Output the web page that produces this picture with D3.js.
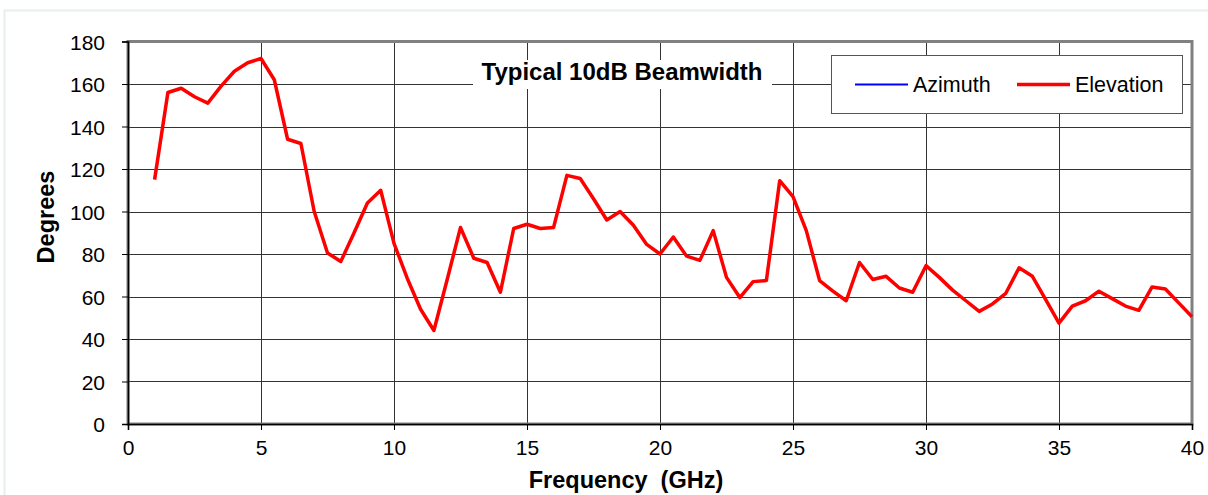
<!DOCTYPE html>
<html><head><meta charset="utf-8">
<script src="https://cdn.jsdelivr.net/npm/d3@7"></script>
<style>
body{margin:0;background:#fff}
svg{display:block;font-family:"Liberation Sans",Arial,Helvetica,sans-serif}
</style>
</head><body>
<svg id="c" width="1208" height="495"></svg>
<script>
// ---- data ----
const frequencies = [1,1.5,2,2.5,3,3.5,4,4.5,5,5.5,6,6.5,7,7.5,8,8.5,9,9.5,10,10.5,11,11.5,12,12.5,13,13.5,14,14.5,15,15.5,16,16.5,17,17.5,18,18.5,19,19.5,20,20.5,21,21.5,22,22.5,23,23.5,24,24.5,25,25.5,26,26.5,27,27.5,28,28.5,29,29.5,30,30.5,31,31.5,32,32.5,33,33.5,34,34.5,35,35.5,36,36.5,37,37.5,38,38.5,39,39.5,40];
const elevation = [115,156,158,154,151,159,166,170,172,162,134,132,100,80.5,76.5,90,104,110,85,68.5,54,44,68,92.5,78,76,62,92,94,92,92.5,117,115.5,106,96,100,93.5,84.5,80,88,79,77,91,69,59.5,67,67.5,114.5,107,91,67.5,62.5,58,76,68,69.5,64,62,74.5,69,63,58,53,56.5,61.5,73.5,69.5,58.5,47.5,55.5,58,62.5,59,55.5,53.5,64.5,63.5,57,50.5];
const azimuth = []; // shown in legend only
const xTicks = [0,5,10,15,20,25,30,35,40];
const yTicks = [0,20,40,60,80,100,120,140,160,180];
const seriesNames = ["Azimuth","Elevation"];
const seriesColors = ["#0000ff","#ff0000"];
const chartTitle = "Typical 10dB Beamwidth";
const xTitle = "Frequency  (GHz)";
const yTitle = "Degrees";

// ---- layout ----
const L = 128, R = 1192, T = 41.5, B = 424;
const svg = d3.select("#c");
const x = d3.scaleLinear().domain([0,40]).range([L,R]);
const y = d3.scaleLinear().domain([0,180]).range([B,T]);

// outer frame
svg.append("rect").attr("x",4.5).attr("y",10.5).attr("width",1220).attr("height",500)
  .attr("fill","#fff").attr("stroke","#e8efe8").attr("stroke-width",2);

// gridlines
const grid = svg.append("g");
grid.selectAll("line.h").data(yTicks.slice(1)).join("line")
  .attr("x1",L).attr("x2",R)
  .attr("y1",d=>Math.round(y(d))+0.5).attr("y2",d=>Math.round(y(d))+0.5)
  .attr("stroke","#333").attr("stroke-width",1);
grid.selectAll("line.v").data(xTicks.slice(1,-1)).join("line")
  .attr("y1",T).attr("y2",B)
  .attr("x1",d=>Math.round(x(d))+0.5).attr("x2",d=>Math.round(x(d))+0.5)
  .attr("stroke","#333").attr("stroke-width",1);

// plot border
svg.append("rect").attr("x",L).attr("y",T).attr("width",R-L).attr("height",B-T)
  .attr("fill","none").attr("stroke","#808080").attr("stroke-width",3);

// axes
const xAxis = d3.axisBottom(x).tickValues(xTicks).tickSize(6).tickPadding(10).tickFormat(d3.format("d"));
const yAxis = d3.axisLeft(y).tickValues(yTicks).tickSize(6).tickPadding(17).tickFormat(d3.format("d"));
const gx = svg.append("g").attr("transform",`translate(0,${B})`).call(xAxis);
const gy = svg.append("g").attr("transform",`translate(${L},0)`).call(yAxis);
[gx,gy].forEach(g=>{
  g.select(".domain").attr("stroke","#000").attr("stroke-width",1.6);
  g.selectAll(".tick line").attr("stroke","#000").attr("stroke-width",1);
  g.selectAll(".tick text").attr("font-size",21).attr("fill","#000")
    .attr("font-family","'Liberation Sans',Arial,sans-serif");
});
gy.selectAll(".tick text").attr("dy","0.36em");
gx.selectAll(".tick text").attr("dy","0.72em");

// title with white box
svg.append("rect").attr("x",473).attr("y",60).attr("width",299).attr("height",29).attr("fill","#fff");
svg.append("text").attr("x",622).attr("y",80).attr("text-anchor","middle")
  .attr("font-size",24).attr("font-weight","bold").text(chartTitle);

// legend
const lg = svg.append("g");
lg.append("rect").attr("x",831.5).attr("y",55.5).attr("width",351).attr("height",58)
  .attr("fill","#fff").attr("stroke","#555").attr("stroke-width",1);
const legendX = [855,1017];
seriesNames.forEach((n,i)=>{
  lg.append("line").attr("x1",legendX[i]).attr("x2",legendX[i]+53).attr("y1",84.5).attr("y2",84.5)
    .attr("stroke",seriesColors[i]).attr("stroke-width",i===0?2:3.5);
  lg.append("text").attr("x",legendX[i]+58).attr("y",92).attr("font-size",21.5).attr("fill","#000").text(n);
});

// series
const line = d3.line().x(d=>x(d[0])).y(d=>y(d[1]));
svg.append("path").datum(azimuth.map((v,i)=>[frequencies[i],v]))
  .attr("d",line).attr("fill","none").attr("stroke",seriesColors[0]).attr("stroke-width",2);
svg.append("path").datum(frequencies.map((f,i)=>[f,elevation[i]]))
  .attr("d",line).attr("fill","none").attr("stroke",seriesColors[1]).attr("stroke-width",3.5)
  .attr("stroke-linejoin","round");

// axis titles
svg.append("text").attr("x",626).attr("y",488).attr("text-anchor","middle")
  .attr("font-size",23.5).attr("font-weight","bold").attr("xml:space","preserve").text(xTitle);
svg.append("text").attr("transform","translate(54,217) rotate(-90)").attr("text-anchor","middle")
  .attr("font-size",23.5).attr("font-weight","bold").text(yTitle);
</script>
</body></html>
